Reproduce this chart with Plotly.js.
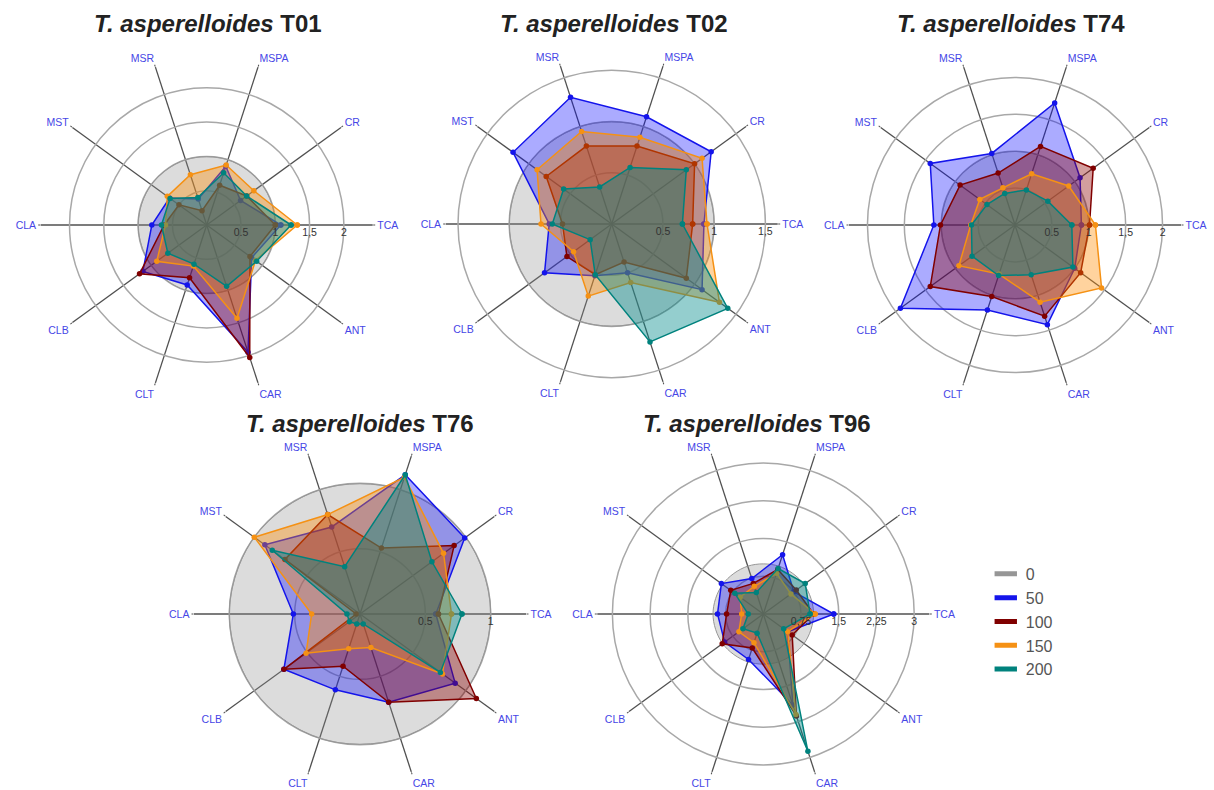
<!DOCTYPE html>
<html><head><meta charset="utf-8">
<script src="https://cdn.plot.ly/plotly-3.0.1.min.js"></script>
<style>html,body{margin:0;padding:0;background:#fff}</style>
</head><body><div id="chart" style="width:1214px;height:790px"></div>
<script>
// ---- data ----
const categories = ["TCA","CR","MSPA","MSR","MST","CLA","CLB","CLT","CAR","ANT"];
const seriesNames = ["0","50","100","150","200"];
const panelNames = ["T01","T02","T74","T76","T96"];

const T01_0   = [1,1,1,1,1,1,1,1,1,1];
const T01_50  = [1.08,0.61,0.90,0.40,0.67,0.80,1.15,0.92,1.95,0.81];
const T01_100 = [1.00,0.72,0.61,0.22,0.50,0.62,1.21,0.81,2.03,0.78];
const T01_150 = [1.32,0.85,0.92,0.77,0.71,0.60,0.90,0.63,1.43,0.88];
const T01_200 = [1.23,0.72,0.80,0.42,0.66,0.66,0.70,0.60,0.94,0.90];

const T02_0   = [1,1,1,1,1,1,1,1,1,1];
const T02_50  = [0.90,1.20,1.10,1.30,1.19,0.61,0.81,0.53,0.50,1.09];
const T02_100 = [0.79,1.00,0.80,0.80,0.79,0.48,0.54,0.52,0.39,0.90];
const T02_150 = [0.93,1.09,0.89,0.95,0.90,0.69,0.46,0.74,0.60,1.30];
const T02_200 = [0.69,0.90,0.58,0.38,0.58,0.58,0.26,0.52,1.21,1.40];

const T74_0   = [1,1,1,1,1,1,1,1,1,1];
const T74_50  = [0.90,1.09,1.74,1.02,1.42,1.10,1.92,1.21,1.42,1.00];
const T74_100 = [1.01,1.31,1.12,0.74,0.92,1.01,1.42,1.02,1.30,1.10];
const T74_150 = [1.09,0.90,0.73,0.53,0.59,0.60,0.94,0.70,1.10,1.45];
const T74_200 = [0.77,0.55,0.50,0.45,0.47,0.59,0.72,0.72,0.71,0.97];

const T76_0   = [1,1,1,1,1,1,1,1,1,1];
const T76_50  = [0.58,0.99,1.12,0.70,0.90,0.51,0.72,0.61,0.71,0.90];
const T76_100 = [0.60,0.89,0.53,0.80,0.71,0.03,0.72,0.42,0.71,1.10];
const T76_150 = [0.70,0.79,1.10,0.80,1.00,0.37,0.51,0.28,0.27,0.78];
const T76_200 = [0.78,0.68,1.12,0.38,0.83,0.10,0.10,0.08,0.08,0.76];

const T96_0   = [1,1,1,1,1,1,1,1,1,1];
const T96_50  = [1.40,0.75,1.24,0.74,1.03,0.91,0.95,0.95,1.90,0.60];
const T96_100 = [1.00,0.81,0.93,0.64,0.80,0.73,1.01,0.71,2.13,0.71];
const T96_150 = [1.03,0.68,0.85,0.58,0.57,0.43,0.60,0.60,2.10,0.60];
const T96_200 = [0.93,1.03,0.95,0.45,0.70,0.30,0.50,0.40,2.87,0.50];

const T01_ticks = [0.5,1,1.5,2];      const T01_tickText = ["0.5","1","1,5","2"];
const T02_ticks = [0.5,1,1.5];        const T02_tickText = ["0.5","1","1,5"];
const T74_ticks = [0.5,1,1.5,2];      const T74_tickText = ["0.5","1","1,5","2"];
const T76_ticks = [0.5,1];            const T76_tickText = ["0.5","1"];
const T96_ticks = [0.75,1.5,2.25,3];  const T96_tickText = ["0,75","1,5","2,25","3"];

// ---- styling ----
const lineColors = ["rgb(150,150,150)","rgb(20,20,235)","rgb(128,0,0)","rgb(245,145,20)","rgb(0,130,125)"];
const fillColors = ["rgba(140,140,140,0.3)","rgba(0,0,255,0.33)","rgba(139,0,0,0.38)","rgba(255,140,0,0.38)","rgba(0,139,139,0.42)"];

const panels = [
  {name:"T01", data:[T01_0,T01_50,T01_100,T01_150,T01_200], ticks:T01_ticks, tt:T01_tickText, rmax:2.42, cx:206.7, cy:225},
  {name:"T02", data:[T02_0,T02_50,T02_100,T02_150,T02_200], ticks:T02_ticks, tt:T02_tickText, rmax:1.62, cx:611.7, cy:224},
  {name:"T74", data:[T74_0,T74_50,T74_100,T74_150,T74_200], ticks:T74_ticks, tt:T74_tickText, rmax:2.25, cx:1015, cy:225},
  {name:"T76", data:[T76_0,T76_50,T76_100,T76_150,T76_200], ticks:T76_ticks, tt:T76_tickText, rmax:1.27, cx:360, cy:614},
  {name:"T96", data:[T96_0,T96_50,T96_100,T96_150,T96_200], ticks:T96_ticks, tt:T96_tickText, rmax:3.3, cx:763.3, cy:614}
];
const titlePos = [[208,23.5],[614,23.5],[1011,23.5],[360,423],[757,423]];

const W = 1214, H = 790, R = 166;
const traces = [];
const layout = {
  width: W, height: H, margin:{l:0,r:0,t:0,b:0},
  paper_bgcolor:"#fff", plot_bgcolor:"#fff",
  font:{family:"Arial, Liberation Sans, sans-serif"},
  showlegend:true,
  legend:{x:0.812, y:0.295, xanchor:"left", yanchor:"top", font:{size:16,color:"#555"},
          itemsizing:"trace", bgcolor:"rgba(0,0,0,0)", tracegroupgap:0},
  xaxis:{visible:false, domain:[0.99,1]}, yaxis:{visible:false, domain:[0.99,1]},
  annotations:[]
};

panels.forEach((p, i) => {
  const key = i === 0 ? "polar" : "polar" + (i + 1);
  p.data.forEach((vals, s) => {
    const r = vals.concat([vals[0]]);
    const th = categories.concat([categories[0]]);
    const isCtrl = s === 0;
    traces.push({
      type:"scatterpolar", subplot:key, r:r, theta:th,
      mode: isCtrl ? "lines" : "lines+markers",
      fill:"toself", fillcolor:fillColors[s],
      line:{color:lineColors[s], width:isCtrl?1:1.5, shape:isCtrl?"spline":"linear"},
      marker:{color:lineColors[s], size:5.5},
      name:seriesNames[s], showlegend:false, hoverinfo:"skip"
    });
  });
  layout[key] = {
    domain:{x:[(p.cx-R)/W,(p.cx+R)/W], y:[1-(p.cy+R)/H, 1-(p.cy-R)/H]},
    bgcolor:"rgba(0,0,0,0)",
    radialaxis:{range:[0,p.rmax], tickvals:p.ticks, ticktext:p.tt, angle:0,
      showline:false, ticks:"", gridcolor:"#a8a8a8", gridwidth:1.5,
      tickfont:{size:10.5,color:"#333"}},
    angularaxis:{type:"category", categoryorder:"array", categoryarray:categories,
      rotation:0, direction:"counterclockwise", showline:false,
      gridcolor:"#505050", gridwidth:1.3, ticks:"outside", ticklen:2, tickcolor:"#505050",
      tickfont:{size:10.5,color:"#4646e6"}}
  };
  layout.annotations.push({
    text:"<b><i>T. asperelloides</i> " + p.name + "</b>",
    x:titlePos[i][0]/W, y:1-titlePos[i][1]/H, xref:"paper", yref:"paper",
    xanchor:"center", yanchor:"middle", showarrow:false,
    font:{size:24, color:"#222"}
  });
});

// legend-only entries
seriesNames.forEach((n, s) => {
  traces.push({type:"scatter", x:[null], y:[null], mode:"markers", name:n, showlegend:true,
    marker:{symbol:"line-ew", size:16, color:lineColors[s], line:{color:lineColors[s], width:5}}});
});

Plotly.newPlot("chart", traces, layout, {displayModeBar:false, staticPlot:true});
</script></body></html>
